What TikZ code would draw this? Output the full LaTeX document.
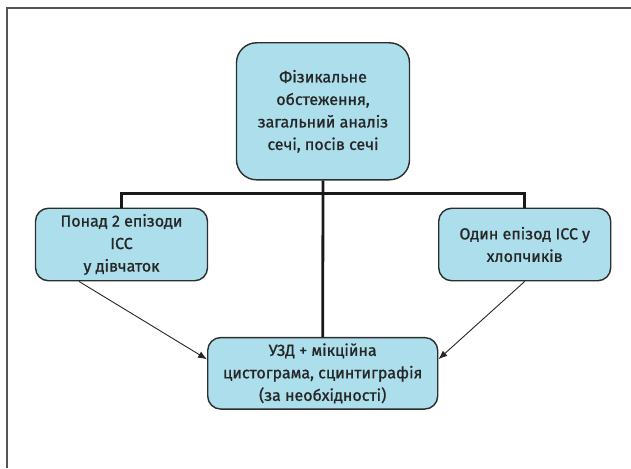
\documentclass[tikz,border=0pt]{standalone}
\usepackage{fontspec}
\setmainfont{Fira Sans}[FakeBold=1]
\usetikzlibrary{arrows.meta}
\definecolor{boxfill}{RGB}{172,222,236}
\definecolor{boxdraw}{RGB}{45,45,45}
\definecolor{framegray}{RGB}{85,85,85}
\tikzset{
  box/.style={draw=boxdraw, line width=1.4pt, fill=boxfill, align=center,
    inner sep=0pt, font=\fontsize{16}{22.5}\selectfont, text=black!85},
  conn/.style={draw=black!90, line width=2.8pt},
  arr/.style={draw=black!85, line width=0.9pt, -{Latex[length=9pt,width=7pt]}}
}
\begin{document}
\begin{tikzpicture}[x=1pt,y=-1pt]
\useasboundingbox (0,0) rectangle (631,468);
\draw[framegray, line width=1.5pt] (7,468) -- (7,8) -- (631,8);
\node[box, rounded corners=20pt, minimum width=173pt, minimum height=137pt] (top) at (323,111.3)
  {Фізикальне\\обстеження,\\загальний аналіз\\сечі, посів сечі};
\node[box, rounded corners=13pt, minimum width=172pt, minimum height=72.5pt] (left) at (121.5,244.5)
  {Понад 2 епізоди\\ІСС\\у дівчаток};
\node[box, rounded corners=13pt, minimum width=172pt, minimum height=72.5pt] (right) at (524.7,244.5)
  {Один епізод ІСС у\\хлопчиків};
\node[box, rounded corners=13pt, minimum width=230pt, minimum height=71.5pt] (bottom) at (322.7,373.3)
  {УЗД + мікційна\\цистограма, сцинтиграфія\\(за необхідності)};
\coordinate (hb) at (323,193.3);
\draw[conn] (top.south) -- (bottom.north);
\draw[conn] (left.north) |- (hb) -| (right.north);
\draw[arr] ([xshift=-42.5pt]left.south) -- ([yshift=14pt]bottom.west);
\draw[arr] (right.south) -- ([yshift=14pt]bottom.east);
\end{tikzpicture}
\end{document}
